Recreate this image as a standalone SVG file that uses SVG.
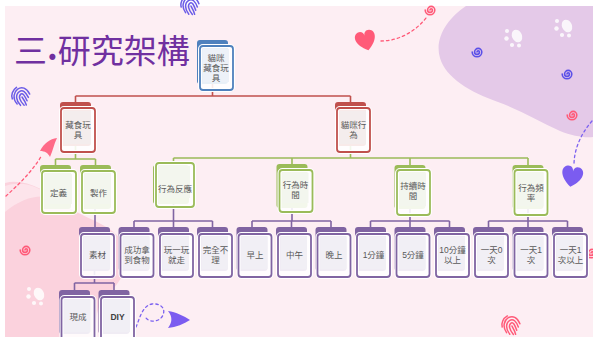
<svg xmlns="http://www.w3.org/2000/svg" xmlns:xlink="http://www.w3.org/1999/xlink" width="593" height="337" viewBox="0 0 593 337">
  <style>
    .t { font-family: "Liberation Sans", "Noto Sans CJK TC", "Noto Sans CJK SC", sans-serif; font-size: 8.5px; fill: #595959; text-anchor: middle; }
    .latin { font-weight: bold; fill: #404040; }
    .title { font-family: "Noto Sans CJK TC", "Noto Sans CJK SC", sans-serif; font-size: 33px; fill: #7030a0; }
    .halo { fill: none; stroke: #ffffff; stroke-width: 4; }
    .box { fill: #ffffff; fill-opacity: 0.88; stroke-width: 1.8; }
    .blue .tab { fill: #4f81bd; } .blue .box { stroke: #4f81bd; } .blue .inner { fill: #edf1f8; }
    .red .tab { fill: #c0504d; } .red .box { stroke: #c0504d; } .red .inner { fill: #f4eded; }
    .green .tab { fill: #9bbb59; } .green .box { stroke: #9bbb59; } .green .inner { fill: #f3f6ee; }
    .purple .tab { fill: #8064a2; } .purple .box { stroke: #8064a2; } .purple .inner { fill: #f1eff5; }
    .ln { fill: none; stroke-width: 1.6; }
    .ln.r { stroke: #c0504d; } .ln.g { stroke: #9bbb59; } .ln.p { stroke: #8064a2; }
    .fp { fill: none; stroke-width: 1.5; stroke-linecap: round; }
    .sp { fill: none; stroke-width: 1.6; stroke-linecap: round; }
    .paw { fill: #ffffff; opacity: 0.85; }
    .dash { fill: none; stroke-width: 1.3; stroke-dasharray: 2.5 3; stroke-linecap: round; }
  </style>
  <defs>
    <g id="fingerprint">
      <path d="M-8,3 C-9,-5 -3,-9 1,-9 C6,-9 9,-5 8,2"/>
      <path d="M-6,6 C-7,-1 -4,-6 1,-6 C5,-6 6,-2 5,4"/>
      <path d="M-3,8 C-4,2 -3,-3 1,-3 C3,-3 3,0 2,6"/>
      <path d="M0,0 C0,3 0,6 -1,9"/>
      <path d="M-9,-4 C-8,-8 -4,-11 1,-11"/>
    </g>
    <path id="spiral" d="M0,0 A1.2,1.2 0 0 1 2.4,0 A2.4,2.4 0 0 1 -2.4,0 A3.6,3.6 0 0 1 4.8,0 A4.8,4.8 0 0 1 -4.8,0"/>
    <g id="paw">
      <ellipse cx="3" cy="-1" rx="5" ry="6.5" transform="rotate(-25 3 -1)"/>
      <circle cx="-7" cy="-6" r="2"/>
      <circle cx="-7.5" cy="1.5" r="2.2"/>
      <circle cx="-2" cy="8" r="2.1"/>
      <circle cx="5" cy="8.5" r="2"/>
    </g>
    <path id="heart" d="M0,7 C-9,1 -9,-6 -4.5,-7.5 C-2,-8.3 0,-6.5 0,-4 C0,-6.5 2,-8.3 4.5,-7.5 C9,-6 9,1 0,7 Z"/>
  </defs>

  <!-- slide background -->
  <rect x="0" y="0" width="593" height="337" fill="#ffffff"/>
  <rect x="5" y="6" width="588" height="331" fill="#fdeef3"/>
  <path d="M466,6 C448,18 434,38 440,58 C446,78 470,92 498,102 C520,110 540,122 560,131 C572,136 585,138 593,137 L593,6 Z" fill="#e4c9e8"/>
  <path d="M5,183 C25,178 45,190 65,205 C90,222 118,225 126,250 C132,272 112,290 100,305 C95,315 96,330 96,337 L5,337 Z" fill="#fbd2dd"/>
  <path d="M5,186 C22,180 40,186 52,198 C38,194 22,198 5,212 Z" fill="#fde4eb"/>

  <!-- decorations -->
  <g id="decor">
    <use xlink:href="#fingerprint" class="fp" stroke="#6b5ce7" transform="translate(191,6) rotate(-30)"/>
    <use xlink:href="#fingerprint" class="fp" stroke="#6b5ce7" transform="translate(22,97) rotate(-35)"/>
    <use xlink:href="#fingerprint" class="fp" stroke="#ff5a78" transform="translate(512,326) rotate(-30)"/>
    <use xlink:href="#spiral" class="sp" stroke="#ff5a78" transform="translate(430,10)"/>
    <use xlink:href="#spiral" class="sp" stroke="#5b50e8" transform="translate(477,52)"/>
    <use xlink:href="#spiral" class="sp" stroke="#5b50e8" transform="translate(567,74)"/>
    <use xlink:href="#spiral" class="sp" stroke="#ff5a78" transform="translate(572,115)"/>
    <use xlink:href="#spiral" class="sp" stroke="#ff5a78" transform="translate(25,250)"/>
    <use xlink:href="#spiral" class="sp" stroke="#ff5a78" transform="translate(591,253)"/>
    <use xlink:href="#paw" class="paw" transform="translate(514,37)"/>
    <use xlink:href="#paw" class="paw" transform="translate(564,27)"/>
    <use xlink:href="#paw" class="paw" transform="translate(36,295)"/>
    <path class="dash" stroke="#ff5a78" d="M381,41 C398,41 415,32 426,18"/>
    <use xlink:href="#heart" fill="#ff5a78" transform="translate(366,41) rotate(-15) scale(1.35)"/>
    <path class="dash" stroke="#7b61f0" d="M592,121 C580,135 574,150 574,165"/>
    <use xlink:href="#heart" fill="#7b5cf0" transform="translate(572,177) rotate(10) scale(1.4)"/>
    <path class="dash" stroke="#ff5a78" d="M6,196 C18,185 32,172 42,155"/>
    <path d="M40,151 C44,143 50,139 57,138 C54,144 53,150 50,157 C48,153 45,151 40,151 Z" fill="#ff6a88"/>
    <path class="dash" stroke="#7b61f0" d="M136,327 C140,318 142,306 152,304 C160,303 166,308 163,315 C160,322 150,323 146,318"/>
    <path d="M168,311 C176,312 184,316 190,320 C184,324 176,327 168,328 C172,323 173,317 168,311 Z" fill="#7b5cf0"/>
  </g>

  <!-- title -->
  <text class="title" x="14" y="63">三<tspan font-weight="bold" dy="-3">.</tspan><tspan dy="3">研究架構</tspan></text>

  <!-- connectors -->
  <g id="connectors">
    <path class="ln r" d="M212.5,84 V96 M75.5,96 H350.5 M75.5,96 V102 M350.5,96 V102"/>
    <path class="ln g" d="M75.5,146 V159 M55.5,159 H95.5 M55.5,159 V165 M95.5,159 V165"/>
    <path class="ln g" d="M350.5,146 V158 M173.5,158 H528 M173.5,158 V163 M292,158 V164 M410,158 V165 M528,158 V165"/>
    <path class="ln p" d="M95,207 V227"/>
    <path class="ln p" d="M173.5,201 V221 M134,221 H212.5 M134,221 V227 M173.5,221 V227 M212.5,221 V227"/>
    <path class="ln p" d="M292,206 V221 M252,221 H331 M252,221 V227 M291.5,221 V227 M331,221 V227"/>
    <path class="ln p" d="M410,209 V221 M370.5,221 H449.5 M370.5,221 V227 M410,221 V227 M449.5,221 V227"/>
    <path class="ln p" d="M528,209 V221 M488.5,221 H567.5 M488.5,221 V227 M528,221 V227 M567.5,221 V227"/>
    <path class="ln p" d="M94.5,271 V283 M74.5,283 H114 M74.5,283 V290 M114,283 V290"/>
  </g>

  <!-- level 0 -->
  <g id="n-root" class="blue">
    <rect class="tab" x="197" y="40" width="31" height="44" rx="3"/>
    <rect class="halo" x="200" y="46" width="33" height="44" rx="3"/>
    <rect class="box" x="200" y="46" width="33" height="44" rx="3"/>
    <rect class="inner" x="203" y="49" width="26" height="33"/>
    <text class="t" x="216" y="61">貓咪<tspan x="216" dy="10">藏食玩</tspan><tspan x="216" dy="10">具</tspan></text>
  </g>

  <!-- level 1 -->
  <g id="n-toy" class="red">
    <rect class="tab" x="60" y="102" width="31" height="44" rx="3"/>
    <rect class="halo" x="61" y="108" width="34" height="44" rx="3"/>
    <rect class="box" x="61" y="108" width="34" height="44" rx="3"/>
    <rect class="inner" x="64" y="111" width="27" height="33"/>
    <text class="t" x="78" y="128">藏食玩<tspan x="78" dy="10">具</tspan></text>
  </g>
  <g id="n-behavior" class="red">
    <rect class="tab" x="335" y="102" width="31" height="44" rx="3"/>
    <rect class="halo" x="337" y="108" width="33" height="44" rx="3"/>
    <rect class="box" x="337" y="108" width="33" height="44" rx="3"/>
    <rect class="inner" x="340" y="111" width="26" height="33"/>
    <text class="t" x="353.5" y="128">貓咪行<tspan x="353.5" dy="10">為</tspan></text>
  </g>

  <!-- level 2 -->
  <g id="n-define" class="green">
    <rect class="tab" x="40" y="165" width="31" height="44" rx="3"/>
    <rect class="halo" x="42" y="171" width="34" height="42" rx="3"/>
    <rect class="box" x="42" y="171" width="34" height="42" rx="3"/>
    <rect class="inner" x="45" y="174" width="27" height="30"/>
    <text class="t" x="58.5" y="196">定義</text>
  </g>
  <g id="n-make" class="green">
    <rect class="tab" x="80" y="165" width="31" height="44" rx="3"/>
    <rect class="halo" x="82" y="171" width="33" height="42" rx="3"/>
    <rect class="box" x="82" y="171" width="33" height="42" rx="3"/>
    <rect class="inner" x="85" y="174" width="26" height="30"/>
    <text class="t" x="98.5" y="196">製作</text>
  </g>
  <g id="n-reaction" class="green">
    <rect class="tab" x="153" y="165" width="36" height="39" rx="3"/>
    <rect class="halo" x="156" y="163" width="38" height="44" rx="3"/>
    <rect class="box" x="156" y="163" width="38" height="44" rx="3"/>
    <rect class="inner" x="159" y="166" width="31" height="32"/>
    <text class="t" x="175" y="192">行為反應</text>
  </g>
  <g id="n-time" class="green">
    <rect class="tab" x="276.5" y="164" width="31" height="44" rx="3"/>
    <rect class="halo" x="279.5" y="170" width="33" height="42" rx="3"/>
    <rect class="box" x="279.5" y="170" width="33" height="42" rx="3"/>
    <rect class="inner" x="282.5" y="173" width="26" height="30"/>
    <text class="t" x="295.5" y="188">行為時<tspan x="295.5" dy="10">間</tspan></text>
  </g>
  <g id="n-duration" class="green">
    <rect class="tab" x="394.5" y="165" width="31" height="44" rx="3"/>
    <rect class="halo" x="397" y="170" width="33" height="45" rx="3"/>
    <rect class="box" x="397" y="170" width="33" height="45" rx="3"/>
    <rect class="inner" x="400" y="173" width="26" height="33"/>
    <text class="t" x="413" y="189">持續時<tspan x="413" dy="10">間</tspan></text>
  </g>
  <g id="n-frequency" class="green">
    <rect class="tab" x="512.5" y="165" width="31" height="44" rx="3"/>
    <rect class="halo" x="514.5" y="170" width="33" height="45" rx="3"/>
    <rect class="box" x="514.5" y="170" width="33" height="45" rx="3"/>
    <rect class="inner" x="517.5" y="173" width="26" height="33"/>
    <text class="t" x="531" y="191">行為頻<tspan x="531" dy="10">率</tspan></text>
  </g>

  <!-- level 3 -->
  <g id="n-material" class="purple">
    <rect class="tab" x="79" y="227" width="31" height="44" rx="3"/>
    <rect class="halo" x="81" y="234" width="33" height="43" rx="3"/>
    <rect class="box" x="81" y="234" width="33" height="43" rx="3"/>
    <rect class="inner" x="84" y="237" width="26" height="32"/>
    <text class="t" x="97.5" y="258">素材</text>
  </g>
  <g id="n-success" class="purple">
    <rect class="tab" x="118.5" y="227" width="31" height="44" rx="3"/>
    <rect class="halo" x="120.5" y="234" width="33" height="43" rx="3"/>
    <rect class="box" x="120.5" y="234" width="33" height="43" rx="3"/>
    <rect class="inner" x="123.5" y="237" width="26" height="32"/>
    <text class="t" x="137" y="253">成功拿<tspan x="137" dy="10">到食物</tspan></text>
  </g>
  <g id="n-play" class="purple">
    <rect class="tab" x="158" y="227" width="31" height="44" rx="3"/>
    <rect class="halo" x="160" y="234" width="33" height="43" rx="3"/>
    <rect class="box" x="160" y="234" width="33" height="43" rx="3"/>
    <rect class="inner" x="163" y="237" width="26" height="32"/>
    <text class="t" x="176.5" y="253">玩一玩<tspan x="176.5" dy="10">就走</tspan></text>
  </g>
  <g id="n-ignore" class="purple">
    <rect class="tab" x="197" y="227" width="31" height="44" rx="3"/>
    <rect class="halo" x="199" y="234" width="33" height="43" rx="3"/>
    <rect class="box" x="199" y="234" width="33" height="43" rx="3"/>
    <rect class="inner" x="202" y="237" width="26" height="32"/>
    <text class="t" x="215.5" y="253">完全不<tspan x="215.5" dy="10">理</tspan></text>
  </g>
  <g id="n-morning" class="purple">
    <rect class="tab" x="236.5" y="227" width="31" height="44" rx="3"/>
    <rect class="halo" x="238.5" y="234" width="33" height="43" rx="3"/>
    <rect class="box" x="238.5" y="234" width="33" height="43" rx="3"/>
    <rect class="inner" x="241.5" y="237" width="26" height="32"/>
    <text class="t" x="255" y="258">早上</text>
  </g>
  <g id="n-noon" class="purple">
    <rect class="tab" x="276" y="227" width="31" height="44" rx="3"/>
    <rect class="halo" x="278" y="234" width="33" height="43" rx="3"/>
    <rect class="box" x="278" y="234" width="33" height="43" rx="3"/>
    <rect class="inner" x="281" y="237" width="26" height="32"/>
    <text class="t" x="294.5" y="258">中午</text>
  </g>
  <g id="n-evening" class="purple">
    <rect class="tab" x="315.5" y="227" width="31" height="44" rx="3"/>
    <rect class="halo" x="317.5" y="234" width="33" height="43" rx="3"/>
    <rect class="box" x="317.5" y="234" width="33" height="43" rx="3"/>
    <rect class="inner" x="320.5" y="237" width="26" height="32"/>
    <text class="t" x="334" y="258">晚上</text>
  </g>
  <g id="n-1min" class="purple">
    <rect class="tab" x="355" y="227" width="31" height="44" rx="3"/>
    <rect class="halo" x="357" y="234" width="33" height="43" rx="3"/>
    <rect class="box" x="357" y="234" width="33" height="43" rx="3"/>
    <rect class="inner" x="360" y="237" width="26" height="32"/>
    <text class="t" x="373.5" y="258">1分鐘</text>
  </g>
  <g id="n-5min" class="purple">
    <rect class="tab" x="394.5" y="227" width="31" height="44" rx="3"/>
    <rect class="halo" x="396.5" y="234" width="33" height="43" rx="3"/>
    <rect class="box" x="396.5" y="234" width="33" height="43" rx="3"/>
    <rect class="inner" x="399.5" y="237" width="26" height="32"/>
    <text class="t" x="413" y="258">5分鐘</text>
  </g>
  <g id="n-10min" class="purple">
    <rect class="tab" x="434" y="227" width="31" height="44" rx="3"/>
    <rect class="halo" x="436" y="234" width="33" height="43" rx="3"/>
    <rect class="box" x="436" y="234" width="33" height="43" rx="3"/>
    <rect class="inner" x="439" y="237" width="26" height="32"/>
    <text class="t" x="452.5" y="253">10分鐘<tspan x="452.5" dy="10">以上</tspan></text>
  </g>
  <g id="n-day0" class="purple">
    <rect class="tab" x="473" y="227" width="31" height="44" rx="3"/>
    <rect class="halo" x="475" y="234" width="33" height="43" rx="3"/>
    <rect class="box" x="475" y="234" width="33" height="43" rx="3"/>
    <rect class="inner" x="478" y="237" width="26" height="32"/>
    <text class="t" x="491.5" y="253">一天0<tspan x="491.5" dy="10">次</tspan></text>
  </g>
  <g id="n-day1" class="purple">
    <rect class="tab" x="512.5" y="227" width="31" height="44" rx="3"/>
    <rect class="halo" x="514.5" y="234" width="33" height="43" rx="3"/>
    <rect class="box" x="514.5" y="234" width="33" height="43" rx="3"/>
    <rect class="inner" x="517.5" y="237" width="26" height="32"/>
    <text class="t" x="531" y="253">一天1<tspan x="531" dy="10">次</tspan></text>
  </g>
  <g id="n-day1plus" class="purple">
    <rect class="tab" x="552" y="227" width="31" height="44" rx="3"/>
    <rect class="halo" x="554" y="234" width="33" height="43" rx="3"/>
    <rect class="box" x="554" y="234" width="33" height="43" rx="3"/>
    <rect class="inner" x="557" y="237" width="26" height="32"/>
    <text class="t" x="570.5" y="253">一天1<tspan x="570.5" dy="10">次以上</tspan></text>
  </g>

  <!-- level 4 -->
  <g id="n-readymade" class="purple">
    <rect class="tab" x="59" y="290" width="31" height="44" rx="3"/>
    <rect class="halo" x="61.5" y="297" width="33" height="44" rx="3"/>
    <rect class="box" x="61.5" y="297" width="33" height="44" rx="3"/>
    <rect class="inner" x="64.5" y="300" width="26" height="32"/>
    <text class="t" x="78" y="320">現成</text>
  </g>
  <g id="n-diy" class="purple">
    <rect class="tab" x="98.5" y="290" width="31" height="44" rx="3"/>
    <rect class="halo" x="101" y="297" width="33" height="44" rx="3"/>
    <rect class="box" x="101" y="297" width="33" height="44" rx="3"/>
    <rect class="inner" x="104" y="300" width="26" height="32"/>
    <text class="t latin" x="117.5" y="320">DIY</text>
  </g>
</svg>
